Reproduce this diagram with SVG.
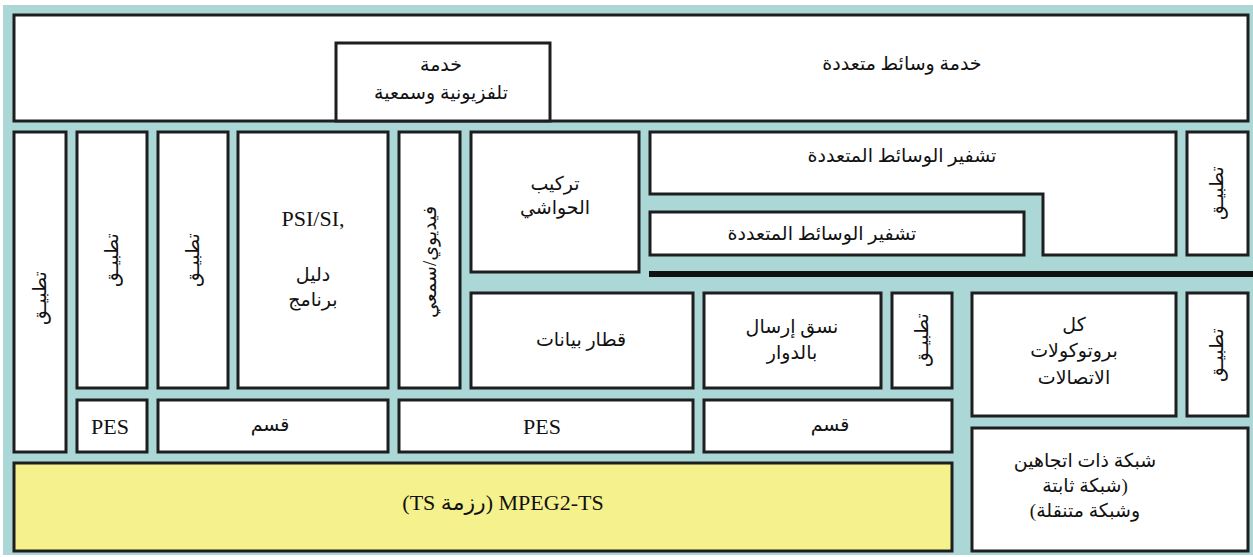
<svg xmlns="http://www.w3.org/2000/svg" width="1253" height="557" viewBox="0 0 1253 557">
  <style>
    .box { fill: #ffffff; stroke: #1e1e1e; stroke-width: 3; }
    .ts { fill: #f5f18c; stroke: #1e1e1e; stroke-width: 3; }
    text { font-family: "Liberation Serif", "DejaVu Sans", serif; font-size: 19px; fill: #111111; text-anchor: middle; }
    text.lat { font-family: "Liberation Serif", "Times New Roman", serif; font-size: 22px; }
    text.mix { font-family: "Liberation Serif", "DejaVu Sans", serif; font-size: 22px; }
  </style>
  <!-- backdrop -->
  <rect x="3" y="5" width="1250" height="550" fill="#abd7d6"/>

  <g id="multimedia-service">
    <rect class="box" x="14" y="15" width="1234" height="106"/>
    <text x="902" y="70">خدمة وسائط متعددة</text>
  </g>
  <g id="tv-service">
    <rect class="box" x="336" y="43" width="214" height="78"/>
    <text x="441" y="71">خدمة</text>
    <text x="441" y="99">تلفزيونية وسمعية</text>
  </g>

  <g id="app-a">
    <rect class="box" x="14" y="132" width="52" height="320"/>
    <text transform="translate(40,298) rotate(-90)" y="6">تطبيـق</text>
  </g>
  <g id="app-b">
    <rect class="box" x="77" y="132" width="70" height="256"/>
    <text transform="translate(112,260) rotate(-90)" y="6">تطبيـق</text>
  </g>
  <g id="app-c">
    <rect class="box" x="158" y="132" width="70" height="256"/>
    <text transform="translate(193,260) rotate(-90)" y="6">تطبيـق</text>
  </g>
  <g id="psi-si">
    <rect class="box" x="238" y="132" width="150" height="256"/>
    <text class="lat" x="313" y="226">PSI/SI,</text>
    <text x="313" y="281">دليل</text>
    <text x="313" y="306">برنامج</text>
  </g>
  <g id="video-audio">
    <rect class="box" x="399" y="132" width="61" height="256"/>
    <text transform="translate(430,262) rotate(-90)" y="6">فيديوي/سمعي</text>
  </g>
  <g id="subtitles">
    <rect class="box" x="471" y="132" width="168" height="140"/>
    <text x="555" y="190">تركيب</text>
    <text x="555" y="214">الحواشي</text>
  </g>
  <g id="mm-coding-outer">
    <path class="box" d="M650 132 H1176 V255 H1043 V194 H650 Z"/>
    <text x="902" y="162">تشفير الوسائط المتعددة</text>
  </g>
  <g id="mm-coding-inner">
    <rect class="box" x="650" y="212" width="374" height="43"/>
    <text x="822" y="240">تشفير الوسائط المتعددة</text>
  </g>
  <g id="app-d">
    <rect class="box" x="1187" y="132" width="61" height="123"/>
    <text transform="translate(1217,193) rotate(-90)" y="6">تطبيـق</text>
  </g>

  <!-- heavy separator rule -->
  <rect x="649" y="271" width="604" height="6" fill="#111111"/>

  <g id="data-carousel">
    <rect class="box" x="471" y="293" width="222" height="95"/>
    <text x="581" y="346">قطار بيانات</text>
  </g>
  <g id="carousel-format">
    <rect class="box" x="704" y="293" width="177" height="95"/>
    <text x="792" y="333">نسق إرسال</text>
    <text x="792" y="359">بالدوار</text>
  </g>
  <g id="app-e">
    <rect class="box" x="892" y="293" width="60" height="95"/>
    <text transform="translate(922,340) rotate(-90)" y="6">تطبيـق</text>
  </g>
  <g id="protocols">
    <rect class="box" x="972" y="293" width="204" height="123"/>
    <text x="1074" y="331">كل</text>
    <text x="1074" y="357">بروتوكولات</text>
    <text x="1074" y="384">الاتصالات</text>
  </g>
  <g id="app-f">
    <rect class="box" x="1187" y="293" width="61" height="123"/>
    <text transform="translate(1217,355) rotate(-90)" y="6">تطبيـق</text>
  </g>
  <g id="bidirectional-network">
    <rect class="box" x="972" y="428" width="276" height="123"/>
    <text x="1085" y="467" direction="rtl">شبكة ذات اتجاهين</text>
    <text x="1085" y="492" direction="rtl">(شبكة ثابتة</text>
    <text x="1085" y="517" direction="rtl">وشبكة متنقلة)</text>
  </g>

  <g id="pes-a">
    <rect class="box" x="77" y="400" width="70" height="52"/>
    <text class="lat" x="110" y="434">PES</text>
  </g>
  <g id="section-a">
    <rect class="box" x="158" y="400" width="230" height="52"/>
    <text x="270" y="431">قسم</text>
  </g>
  <g id="pes-b">
    <rect class="box" x="399" y="400" width="294" height="52"/>
    <text class="lat" x="542" y="434">PES</text>
  </g>
  <g id="section-b">
    <rect class="box" x="704" y="400" width="248" height="52"/>
    <text x="830" y="431">قسم</text>
  </g>
  <g id="mpeg2-ts">
    <rect class="ts" x="14" y="463" width="938" height="88"/>
    <text class="mix" x="503" y="510" direction="rtl">MPEG2-TS (رزمة TS)</text>
  </g>

  <g id="connectors"/>
</svg>
